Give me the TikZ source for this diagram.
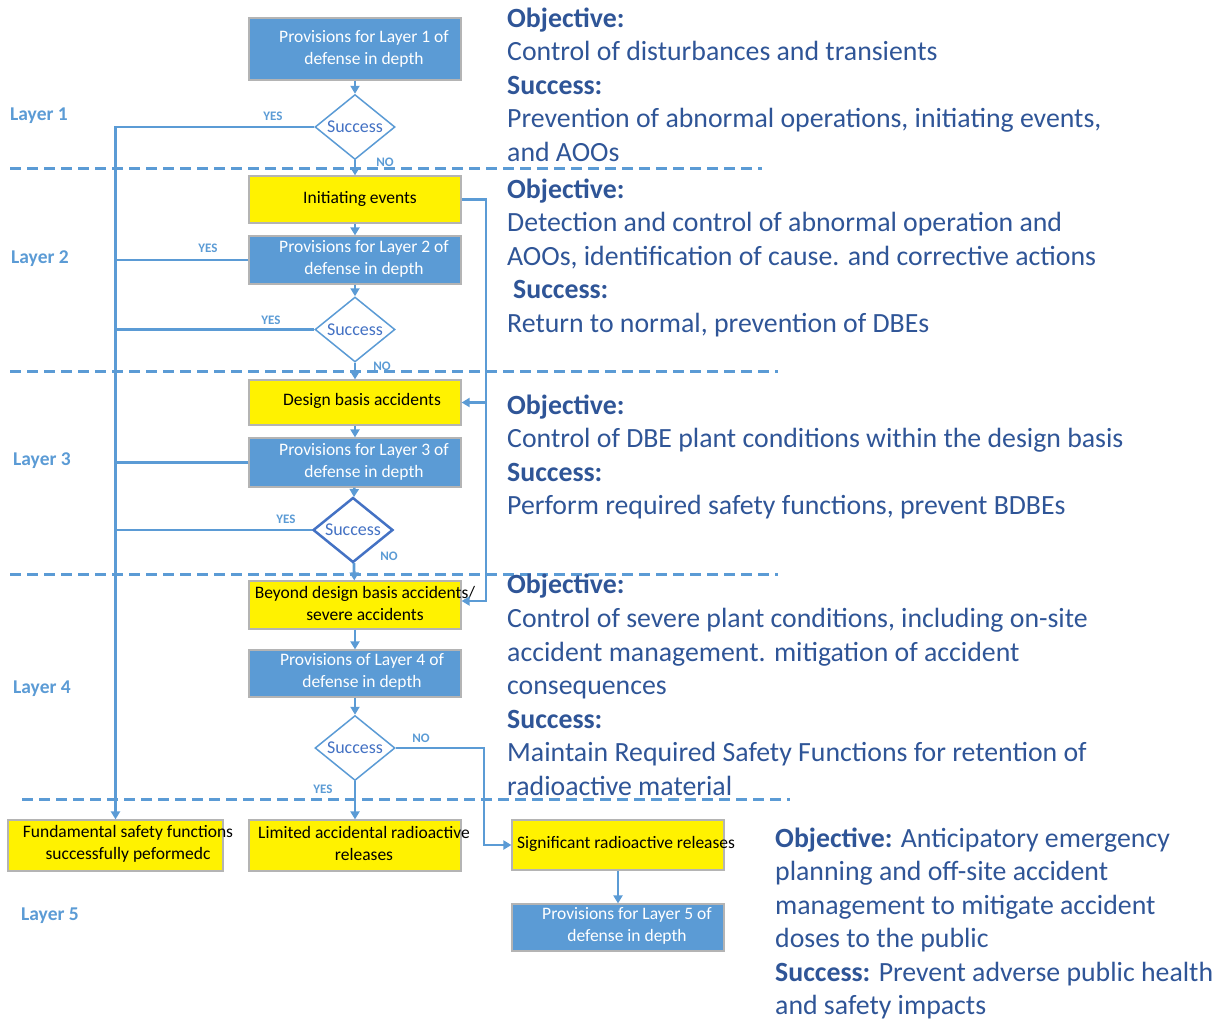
\documentclass[tikz,border=0pt]{standalone}
\usepackage{fontspec}
\setmainfont{Carlito}
\usetikzlibrary{shapes.geometric,arrows.meta,calc}
\definecolor{lb}{HTML}{5B9BD5}
\definecolor{db}{HTML}{2F5597}
\definecolor{sb}{HTML}{4472C4}
\definecolor{gb}{HTML}{B4B4B4}
\begin{document}
\begin{tikzpicture}[x=1pt,y=-1pt,
  bluebox/.style={rectangle, fill=lb, draw=gb, line width=1.2pt, minimum width=212pt, inner sep=0pt},
  yelbox/.style={rectangle, fill=yellow, draw=gb, line width=1.2pt, minimum width=212pt, inner sep=0pt},
  btxt/.style={inner sep=0pt, align=center, font=\fontsize{17.5}{22}\selectfont},
  wtxt/.style={btxt, text=white},
  dia/.style={diamond, draw=lb, fill=white, line width=1.5pt, minimum width=80pt, minimum height=65pt, inner sep=0pt},
  stxt/.style={inner sep=0pt, text=sb, font=\fontsize{18}{20}\selectfont},
  conn/.style={draw=lb, line width=2.8pt},
  arr/.style={conn, -{Triangle[length=8pt,width=9pt]}},
  sep/.style={draw=lb, line width=3pt, dash pattern=on 11pt off 6pt},
  yn/.style={inner sep=0pt, text=lb, font=\bfseries\fontsize{13}{14}\selectfont},
  layer/.style={inner sep=0pt, anchor=west, text=lb, font=\bfseries\fontsize{19.5}{22}\selectfont},
  rt/.style={inner sep=0pt, anchor=base west, text=db, font=\fontsize{27.8}{33.5}\selectfont}
]
\useasboundingbox (0,0) rectangle (1226,1021);

% separators
\draw[sep] (10,168) -- (762,168);
\draw[sep] (10,371) -- (778,371);
\draw[sep] (10,574) -- (778,574);
\draw[sep] (22,799) -- (790,799);

% boxes
\node[bluebox, minimum height=62pt] (b1) at (355,49) {};
\node[wtxt] (b1t) at (364,49) {Provisions for Layer 1 of\\defense in depth};
\node[dia, label={[stxt]center:Success}] (d1) at (355,127) {};
\node[yelbox, minimum height=47pt] (ie) at (355,199.5) {};
\node[btxt] (iet) at (360,199) {Initiating events};
\node[bluebox, minimum height=48pt] (b2) at (355,260) {};
\node[wtxt] (b2t) at (364,259) {Provisions for Layer 2 of\\defense in depth};
\node[dia, label={[stxt]center:Success}] (d2) at (355,329.5) {};
\node[yelbox, minimum height=45pt] (dba) at (355,402.5) {};
\node[btxt] (dbat) at (362,401) {Design basis accidents};
\node[bluebox, minimum height=49pt] (b3) at (355,462.5) {};
\node[wtxt] (b3t) at (364,462) {Provisions for Layer 3 of\\defense in depth};
\node[dia, draw=sb, line width=2.5pt, label={[stxt]center:Success}] (d3) at (353,530) {};
\node[yelbox, minimum height=48pt] (bdba) at (355,605) {};
\node[btxt] (bdbat) at (365,603) {Beyond design basis accidents/\\severe accidents};
\node[bluebox, minimum height=47pt] (b4) at (355,673.5) {};
\node[wtxt] (b4t) at (362,672) {Provisions of Layer 4 of\\defense in depth};
\node[dia, label={[stxt]center:Success}] (d4) at (355,748) {};
\node[yelbox, minimum width=215pt, minimum height=51pt] (fsf) at (115.5,845.5) {};
\node[btxt] (fsft) at (128,844) {Fundamental safety functions\\successfully peformedc};
\node[yelbox, minimum height=51pt] (lar) at (355,845.5) {};
\node[btxt] (lart) at (364,843) {Limited accidental radioactive\\releases};
\node[yelbox, minimum height=50pt] (srr) at (618,845) {};
\node[btxt, anchor=west] (srrt) at (517,844) {Significant radioactive releases};
\node[bluebox, minimum height=47pt] (b5) at (618,927.5) {};
\node[wtxt] (b5t) at (627,926) {Provisions for Layer 5 of\\defense in depth};

% vertical flow
\draw[arr] (b1) -- (d1);
\draw[arr] (d1) -- (ie);
\draw[arr] (ie) -- (b2);
\draw[arr] (b2) -- (d2);
\draw[arr] (d2) -- (dba);
\draw[arr] (dba) -- (b3);
\draw[arr] (b3) -- (d3);
\draw[arr] (d3) -- (bdba);
\draw[arr] (bdba) -- (b4);
\draw[arr] (b4) -- (d4);
\draw[arr] (d4) -- (lar);
\draw[arr] (srr) -- (b5);

% left trunk (YES)
\draw[arr] (d1.west) -| (fsf.north);
\draw[conn] (b2.west) -- (b2.west -| fsf.north);
\draw[conn] (d2.west) -- (d2.west -| fsf.north);
\draw[conn] (b3.west) -- (b3.west -| fsf.north);
\draw[conn] (d3.west) -- (d3.west -| fsf.north);

% right trunk
\coordinate (rt) at (486,199.5);
\draw[arr] (ie.east) -- (rt) |- (dba.east);
\draw[arr] (rt) |- ($(bdba.east)+(0,-4)$);

% No from d4
\coordinate (nk) at (484,845);
\draw[arr] (d4.east) -- (d4.east -| nk) -- (nk) -- (srr.west);

% YES / NO labels
\node[yn] (y1) at (273,116) {YES};
\node[yn] (n1) at (385,162) {NO};
\node[yn] (y2) at (208,248) {YES};
\node[yn] (y3) at (271,320) {YES};
\node[yn] (n2) at (382,366) {NO};
\node[yn] (y4) at (286,519) {YES};
\node[yn] (n3) at (389,556) {NO};
\node[yn] (n4) at (421,738) {NO};
\node[yn] (y5) at (323,789) {YES};

% layer labels
\node[layer] (l1) at (10,116) {Layer 1};
\node[layer] (l2) at (11,259) {Layer 2};
\node[layer] (l3) at (13,461) {Layer 3};
\node[layer] (l4) at (13,689) {Layer 4};
\node[layer] (l5) at (21,916) {Layer 5};

% right text
\node[rt] (a1) at (507,27) {\bfseries Objective:};
\node[rt] (a2) at (507,60.5) {Control of disturbances and transients};
\node[rt] (a3) at (507,94) {\bfseries Success:};
\node[rt] (a4) at (507,127.5) {Prevention of abnormal operations, initiating events,};
\node[rt] (a5) at (507,161) {and AOOs};

\node[rt] (c1) at (507,198) {\bfseries Objective:};
\node[rt] (c2) at (507,231.5) {Detection and control of abnormal operation and};
\node[rt] (c3) at (507,265) {AOOs, identification of cause. and corrective actions};
\node[rt] (c4) at (513,298.5) {\bfseries Success:};
\node[rt] (c5) at (507,332) {Return to normal, prevention of DBEs};

\node[rt] (e1) at (507,414) {\bfseries Objective:};
\node[rt] (e2) at (507,447.5) {Control of DBE plant conditions within the design basis};
\node[rt] (e3) at (507,481) {\bfseries Success:};
\node[rt] (e4) at (507,514.5) {Perform required safety functions, prevent BDBEs};

\node[rt] (g1) at (507,593) {\bfseries Objective:};
\node[rt] (g2) at (507,627.5) {Control of severe plant conditions, including on-site};
\node[rt] (g3) at (507,661) {accident management. mitigation of accident};
\node[rt] (g4) at (507,694.5) {consequences};
\node[rt] (g5) at (507,728) {\bfseries Success:};
\node[rt] (g6) at (507,761.5) {Maintain Required Safety Functions for retention of};
\node[rt] (g7) at (507,795) {radioactive material};

\node[rt] (k1) at (775,847) {\textbf{Objective:} Anticipatory emergency};
\node[rt] (k2) at (775,880.5) {planning and off-site accident};
\node[rt] (k3) at (775,914) {management to mitigate accident};
\node[rt] (k4) at (775,947.5) {doses to the public};
\node[rt] (k5) at (775,981) {\textbf{Success:} Prevent adverse public health};
\node[rt] (k6) at (775,1014.5) {and safety impacts};
\end{tikzpicture}
\end{document}
